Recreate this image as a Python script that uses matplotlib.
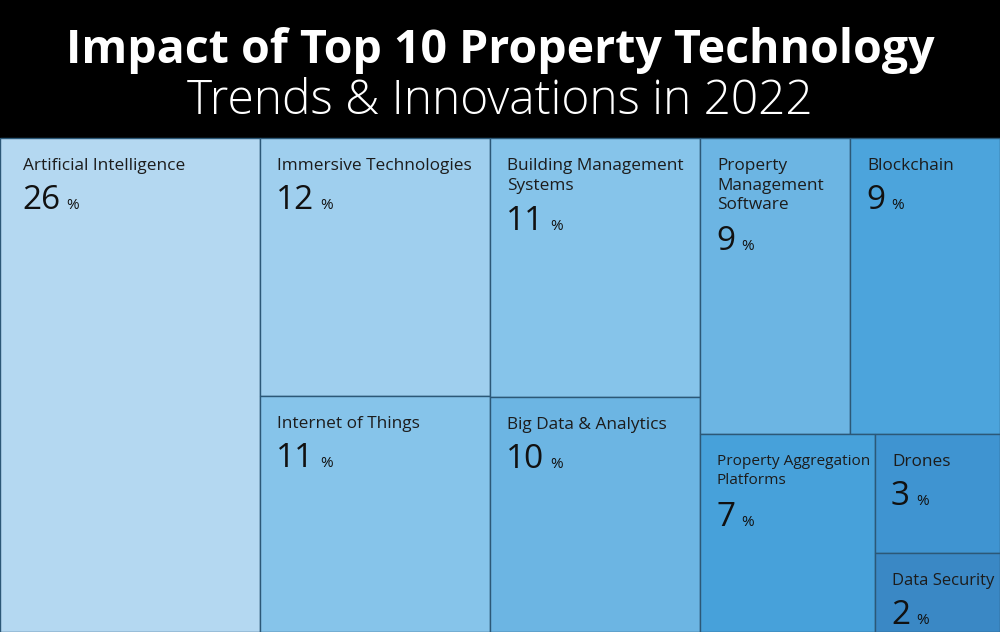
import matplotlib
matplotlib.use("Agg")
import matplotlib.pyplot as plt
from matplotlib.patches import Rectangle

# data
labels = ["Artificial Intelligence", "Immersive Technologies", "Internet of Things",
          "Building Management\nSystems", "Big Data & Analytics",
          "Property\nManagement\nSoftware", "Blockchain",
          "Property Aggregation\nPlatforms", "Drones", "Data Security"]
values = [26, 12, 11, 11, 10, 9, 9, 7, 3, 2]
colors = ["#b4d8f1", "#9fcfee", "#86c4ea", "#86c4ea", "#6cb5e3",
          "#6cb5e3", "#4ca4dc", "#47a1da", "#3f94d1", "#3a88c5"]

# nesting of the treemap: columns left to right, then rows / columns inside
layout = ["h", [0], ["v", [1], [2]], ["v", [3], [4]],
          ["v", ["h", [5], [6]], ["h", [7], ["v", [8], [9]]]]]

TOP = 138
W, H = 1000, 632

def total(node):
    if node[0] in ("h", "v"):
        return sum(total(n) for n in node[1:])
    return values[node[0]]

rects = {}

def place(node, x, y, w, h):
    if node[0] not in ("h", "v"):
        rects[node[0]] = (x, y, w, h)
        return
    kids = node[1:]
    s = sum(total(k) for k in kids)
    for k in kids:
        f = total(k) / s
        if node[0] == "h":
            place(k, x, y, w * f, h)
            x += w * f
        else:
            place(k, x, y, w, h * f)
            y += h * f

place(layout, 0, TOP, W, H - TOP)

fig = plt.figure(figsize=(10, 6.32), dpi=100, facecolor="black")
ax = fig.add_axes([0, 0, 1, 1])
ax.set_xlim(0, W)
ax.set_ylim(H, 0)
ax.axis("off")

ax.add_patch(Rectangle((0, 0), W, TOP, color="black", lw=0))

for i, (x, y, w, h) in rects.items():
    ax.add_patch(Rectangle((x, y), w, h, fc=colors[i], ec="#2c5877", lw=1.0))
    pad = 17 if w > 120 else 10
    if i == 0:
        pad = 23
    ty = y + 20
    lab = ax.text(x + pad, ty, labels[i], fontsize=12.4, family="Open Sans",
                  color="#1c1c1c", va="top", ha="left", linespacing=1.3)
    fig.canvas.draw()
    lw_ = lab.get_window_extent().width
    if lw_ > w - pad - 5:  # shrink label so it stays inside its cell
        lab.set_fontsize(12.4 * (w - pad - 5) / lw_)
    nlines = labels[i].count("\n")
    vy = ty + 13 + nlines * 20.5 + 38
    t = ax.text(x + pad - 1, vy, str(values[i]), fontsize=24, family="Open Sans",
                color="#111111", va="baseline", ha="left")
    fig.canvas.draw()
    bb = t.get_window_extent()
    ax.text(x + pad - 1 + bb.width + 6, vy, "%", fontsize=11, family="Open Sans",
            color="#111111", va="baseline", ha="left")

ax.text(W / 2, 63, "Impact of Top 10 Property Technology", fontsize=33.5,
        family="Open Sans", weight="bold", color="white", ha="center", va="baseline")
ax.text(W / 2, 114, "Trends & Innovations in 2022", fontsize=34.5,
        family="Open Sans", weight="light", color="white", ha="center", va="baseline")

fig.savefig("out.png", dpi=100, facecolor="black")
